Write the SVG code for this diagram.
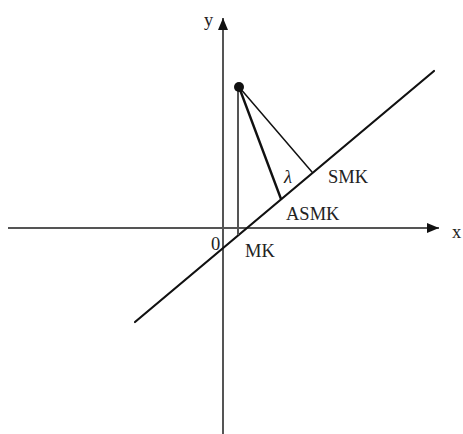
<svg xmlns="http://www.w3.org/2000/svg" width="463" height="434" viewBox="0 0 463 434">
<style>
.axis{stroke:#555;stroke-width:2;fill:none}
.ln{stroke:#111;fill:none;stroke-linecap:round}
.lbl{font-family:"Liberation Serif","Times New Roman",serif;font-size:18.5px;fill:#222}
</style>
<defs>
<marker id="arr" markerWidth="12" markerHeight="10" refX="12" refY="5" orient="auto" markerUnits="userSpaceOnUse">
<path d="M0,0 L12,5 L0,10 Z" fill="#111"/>
</marker>
</defs>
<rect width="463" height="434" fill="#fff"/>
<g id="connectors">
<line class="axis" x1="8" y1="228" x2="439" y2="228" marker-end="url(#arr)"/>
<line class="axis" x1="223" y1="434" x2="223" y2="18" marker-end="url(#arr)"/>
<line class="ln" x1="135" y1="322" x2="434" y2="71" stroke-width="2.2"/>
<line class="axis" x1="238" y1="87" x2="238" y2="235"/>
<line class="ln" x1="239" y1="87" x2="281" y2="199" stroke-width="2.4"/>
<line class="ln" x1="239" y1="87" x2="312" y2="172" stroke-width="1.5"/>
</g>
<g id="point"><circle cx="239" cy="87" r="5" fill="#111"/></g>
<g id="labels">
<text class="lbl" x="204" y="26">y</text>
<text class="lbl" x="452" y="238">x</text>
<text class="lbl" x="211" y="250">0</text>
<text class="lbl" x="245" y="257">MK</text>
<text class="lbl" x="286" y="220">ASMK</text>
<text class="lbl" x="328" y="183">SMK</text>
<text class="lbl" x="284" y="183" font-style="italic">λ</text>
</g>
</svg>
